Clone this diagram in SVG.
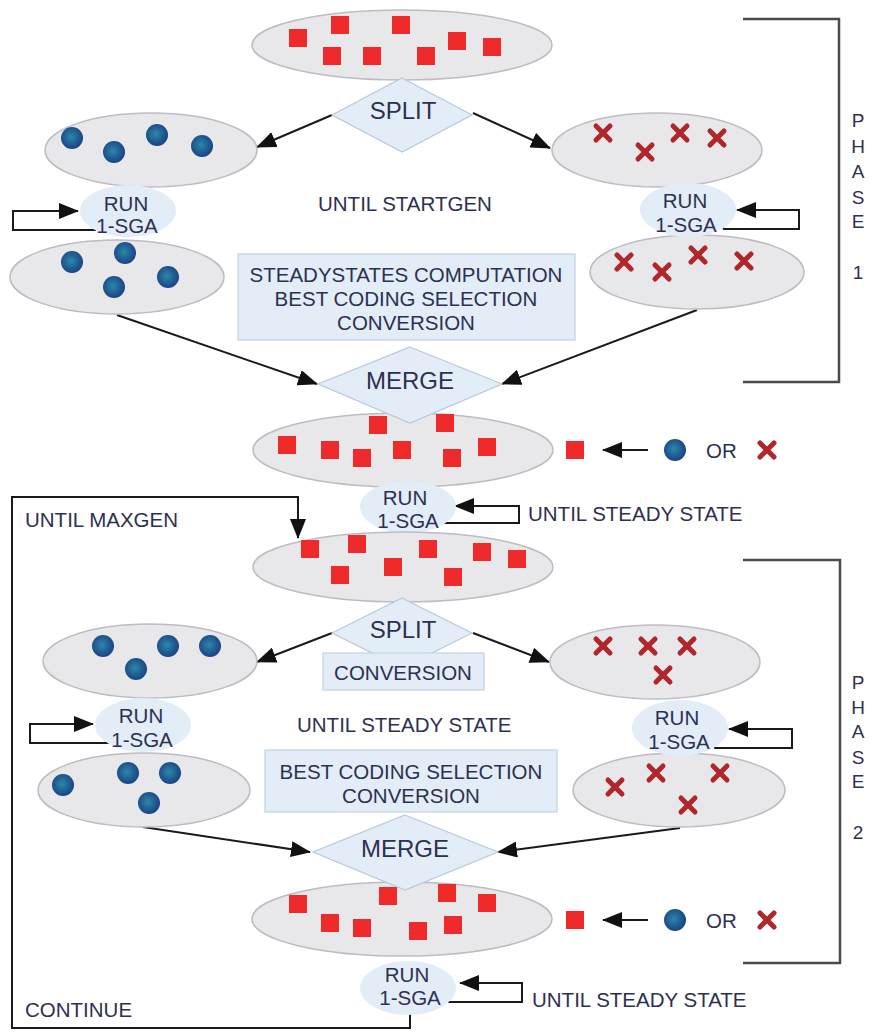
<svg xmlns="http://www.w3.org/2000/svg" xmlns:xlink="http://www.w3.org/1999/xlink" width="874" height="1035" viewBox="0 0 874 1035">
<style>
.pop{fill:#e8e8ea;stroke:#bcbcc2;stroke-width:1.5}
.run{fill:#e2edf8}
.dia{fill:#e2edf8;stroke:#b9c9da;stroke-width:1.2}
.box{fill:#e2edf8;stroke:#c3d3e3;stroke-width:1.2}
.t{font-family:"Liberation Sans",Arial,sans-serif;font-size:20.5px;fill:#2e3050}
.tc{text-anchor:middle}
.td{font-family:"Liberation Sans",Arial,sans-serif;font-size:24px;fill:#2e3050;text-anchor:middle}
.tp{font-family:"Liberation Sans",Arial,sans-serif;font-size:19px;fill:#2e3050;text-anchor:middle}
.ln{fill:none;stroke:#1a1a1a;stroke-width:2}
.ar{marker-end:url(#ah)}
.br{fill:none;stroke:#4a4a4a;stroke-width:2.5}
.sq{fill:#ee2a2a}
</style>
<defs>
<marker id="ah" viewBox="0 0 20 16" refX="19" refY="8" markerWidth="20" markerHeight="16" markerUnits="userSpaceOnUse" orient="auto">
<path d="M0,0 L20,8 L0,16 z" fill="#111"/>
</marker>
<radialGradient id="dg" cx="0.45" cy="0.45" r="0.6">
<stop offset="0" stop-color="#2d87a8"/>
<stop offset="0.6" stop-color="#1f5a92"/>
<stop offset="1" stop-color="#1a3f7e"/>
</radialGradient>
<rect id="sq" class="sq" x="-9" y="-9" width="18" height="18"/>
<circle id="dot" r="11" fill="url(#dg)"/>
<g id="cx" stroke="#b1262b" stroke-width="5" stroke-linecap="round">
<line x1="-7" y1="-7" x2="7" y2="7"/>
<line x1="7" y1="-7" x2="-7" y2="7"/>
</g>
</defs>
<rect width="874" height="1035" fill="#fff"/>

<g id="connectors">
<path class="ln ar" d="M332,115 L257,147"/>
<path class="ln ar" d="M473,113 L550,148"/>
<path class="ln ar" d="M117,315 L317,384"/>
<path class="ln ar" d="M697,310 L502,384"/>
<path class="ln ar" d="M95,226 L95,230 L13,230 L13,211 L78,211"/>
<path class="ln ar" d="M722,226 L724,229 L799,229 L799,210 L737,210"/>
<path class="ln ar" d="M440,520 L442,523 L519,523 L519,506 L455,506"/>
<path class="ln ar" d="M648,450 L603,450"/>
<path class="ln ar" d="M410,1013 L410,1028 L12,1028 L12,497 L298,497 L298,538"/>
<path class="ln ar" d="M332,633 L257,662"/>
<path class="ln ar" d="M473,633 L549,662"/>
<path class="ln ar" d="M112,740 L113,743 L30,743 L30,724 L93,724"/>
<path class="ln ar" d="M713,745 L715,748 L792,748 L792,729 L729,729"/>
<path class="ln ar" d="M143,827 L310,852"/>
<path class="ln ar" d="M680,828 L498,852"/>
<path class="ln ar" d="M648,920 L603,920"/>
<path class="ln ar" d="M440,999 L442,1002 L522,1002 L522,983 L460,983"/>
</g>

<g id="phase1-bracket">
<path class="br" d="M743,19 L839,19 L839,382 L743,382"/>
<text class="tp" x="858" y="127">P</text>
<text class="tp" x="858" y="153">H</text>
<text class="tp" x="858" y="178">A</text>
<text class="tp" x="858" y="204">S</text>
<text class="tp" x="858" y="228">E</text>
<text class="tp" x="858" y="279">1</text>
</g>
<g id="phase2-bracket">
<path class="br" d="M743,560 L840,560 L840,963 L743,963"/>
<text class="tp" x="858" y="689">P</text>
<text class="tp" x="858" y="714">H</text>
<text class="tp" x="858" y="738">A</text>
<text class="tp" x="858" y="764">S</text>
<text class="tp" x="858" y="788">E</text>
<text class="tp" x="858" y="839">2</text>
</g>

<g id="pop-top">
<ellipse class="pop" cx="402" cy="45" rx="150" ry="35"/>
<use href="#sq" x="298" y="38"/><use href="#sq" x="340" y="25"/><use href="#sq" x="401" y="25"/><use href="#sq" x="332" y="56"/>
<use href="#sq" x="372" y="56"/><use href="#sq" x="426" y="56"/><use href="#sq" x="457" y="41"/><use href="#sq" x="492" y="47"/>
</g>
<g id="split1">
<polygon class="dia" points="402,78 472,115 402,152 332,115"/>
<text class="td" x="403" y="119">SPLIT</text>
</g>
<g id="pop-l1a">
<ellipse class="pop" cx="151" cy="150" rx="106" ry="37"/>
<use href="#dot" x="72" y="138"/><use href="#dot" x="114" y="152"/><use href="#dot" x="157" y="135"/><use href="#dot" x="202" y="146"/>
</g>
<g id="pop-r1a">
<ellipse class="pop" cx="657" cy="150" rx="105" ry="37"/>
<use href="#cx" x="603" y="133"/><use href="#cx" x="645" y="152"/><use href="#cx" x="680" y="133"/><use href="#cx" x="717" y="138"/>
</g>
<g id="pop-l1b">
<ellipse class="pop" cx="117" cy="277" rx="107" ry="37"/>
<use href="#dot" x="72" y="262"/><use href="#dot" x="125" y="253"/><use href="#dot" x="114" y="287"/><use href="#dot" x="168" y="277"/>
</g>
<g id="pop-r1b">
<ellipse class="pop" cx="697" cy="272" rx="107" ry="37"/>
<use href="#cx" x="624" y="262"/><use href="#cx" x="662" y="272"/><use href="#cx" x="698" y="255"/><use href="#cx" x="744" y="261"/>
</g>
<g id="run-l1">
<ellipse class="run" cx="128" cy="211" rx="48" ry="26"/>
<text class="t tc" x="126" y="211">RUN</text>
<text class="t tc" x="127" y="233">1-SGA</text>
</g>
<g id="run-r1">
<ellipse class="run" cx="688" cy="210" rx="48" ry="27"/>
<text class="t tc" x="685" y="208">RUN</text>
<text class="t tc" x="686" y="232">1-SGA</text>
</g>
<g id="label-startgen">
<text class="t" x="318" y="211">UNTIL STARTGEN</text>
</g>
<g id="box1">
<rect class="box" x="238" y="254" width="337" height="86"/>
<text class="t tc" x="406" y="282">STEADYSTATES COMPUTATION</text>
<text class="t tc" x="406" y="306">BEST CODING SELECTION</text>
<text class="t tc" x="406" y="330">CONVERSION</text>
</g>
<g id="pop-merged1">
<ellipse class="pop" cx="403" cy="450" rx="150" ry="37"/>
<use href="#sq" x="287" y="445"/><use href="#sq" x="330" y="450"/><use href="#sq" x="362" y="458"/><use href="#sq" x="378" y="425"/>
<use href="#sq" x="402" y="450"/><use href="#sq" x="445" y="423"/><use href="#sq" x="452" y="458"/><use href="#sq" x="487" y="447"/>
</g>
<g id="merge1">
<polygon class="dia" points="410,347 502,384 410,423 318,384"/>
<text class="td" x="410" y="389">MERGE</text>
</g>
<g id="legend1">
<use href="#sq" x="575" y="450"/>
<use href="#dot" x="675" y="450"/>
<text class="t" x="706" y="458">OR</text>
<use href="#cx" x="767" y="450"/>
</g>
<g id="run-2">
<ellipse class="run" cx="408" cy="507" rx="48" ry="26"/>
<text class="t tc" x="405" y="505">RUN</text>
<text class="t tc" x="408" y="528">1-SGA</text>
<text class="t" x="528" y="521">UNTIL STEADY STATE</text>
</g>
<g id="label-maxgen">
<text class="t" x="25" y="527">UNTIL MAXGEN</text>
</g>

<g id="pop-top2">
<ellipse class="pop" cx="403" cy="567" rx="150" ry="35"/>
<use href="#sq" x="310" y="549"/><use href="#sq" x="357" y="544"/><use href="#sq" x="340" y="575"/><use href="#sq" x="393" y="567"/>
<use href="#sq" x="428" y="549"/><use href="#sq" x="482" y="552"/><use href="#sq" x="517" y="559"/><use href="#sq" x="453" y="577"/>
</g>
<g id="split2">
<polygon class="dia" points="402,598 472,633 402,668 332,633"/>
<text class="td" x="403" y="638">SPLIT</text>
</g>
<g id="box-conv">
<rect class="box" x="323" y="653" width="161" height="37"/>
<text class="t tc" x="403" y="680">CONVERSION</text>
</g>
<g id="pop-l2a">
<ellipse class="pop" cx="150" cy="661" rx="107" ry="37"/>
<use href="#dot" x="103" y="646"/><use href="#dot" x="168" y="646"/><use href="#dot" x="210" y="646"/><use href="#dot" x="136" y="669"/>
</g>
<g id="pop-r2a">
<ellipse class="pop" cx="655" cy="662" rx="105" ry="37"/>
<use href="#cx" x="603" y="646"/><use href="#cx" x="648" y="646"/><use href="#cx" x="687" y="646"/><use href="#cx" x="663" y="675"/>
</g>
<g id="pop-l2b">
<ellipse class="pop" cx="144" cy="790" rx="106" ry="37"/>
<use href="#dot" x="63" y="785"/><use href="#dot" x="128" y="773"/><use href="#dot" x="170" y="773"/><use href="#dot" x="149" y="803"/>
</g>
<g id="pop-r2b">
<ellipse class="pop" cx="679" cy="790" rx="106" ry="37"/>
<use href="#cx" x="615" y="787"/><use href="#cx" x="656" y="773"/><use href="#cx" x="720" y="773"/><use href="#cx" x="688" y="805"/>
</g>
<g id="run-l2">
<ellipse class="run" cx="143" cy="725" rx="48" ry="27"/>
<text class="t tc" x="141" y="723">RUN</text>
<text class="t tc" x="142" y="747">1-SGA</text>
</g>
<g id="run-r2">
<ellipse class="run" cx="680" cy="728" rx="48" ry="28"/>
<text class="t tc" x="677" y="725">RUN</text>
<text class="t tc" x="679" y="749">1-SGA</text>
</g>
<g id="label-steady">
<text class="t" x="297" y="732">UNTIL STEADY STATE</text>
</g>
<g id="box2">
<rect class="box" x="265" y="750" width="292" height="62"/>
<text class="t tc" x="411" y="779">BEST CODING SELECTION</text>
<text class="t tc" x="411" y="803">CONVERSION</text>
</g>
<g id="pop-merged2">
<ellipse class="pop" cx="402" cy="919" rx="150" ry="37"/>
<use href="#sq" x="298" y="904"/><use href="#sq" x="330" y="923"/><use href="#sq" x="362" y="928"/><use href="#sq" x="388" y="896"/>
<use href="#sq" x="418" y="931"/><use href="#sq" x="447" y="893"/><use href="#sq" x="453" y="925"/><use href="#sq" x="487" y="903"/>
</g>
<g id="merge2">
<polygon class="dia" points="405,815 498,852 405,890 313,852"/>
<text class="td" x="405" y="857">MERGE</text>
</g>
<g id="legend2">
<use href="#sq" x="575" y="920"/>
<use href="#dot" x="675" y="920"/>
<text class="t" x="706" y="928">OR</text>
<use href="#cx" x="767" y="920"/>
</g>
<g id="run-3">
<ellipse class="run" cx="408" cy="988" rx="48" ry="27"/>
<text class="t tc" x="407" y="982">RUN</text>
<text class="t tc" x="410" y="1005">1-SGA</text>
<text class="t" x="532" y="1007">UNTIL STEADY STATE</text>
</g>
<g id="label-continue">
<text class="t" x="25" y="1017">CONTINUE</text>
</g>
</svg>
